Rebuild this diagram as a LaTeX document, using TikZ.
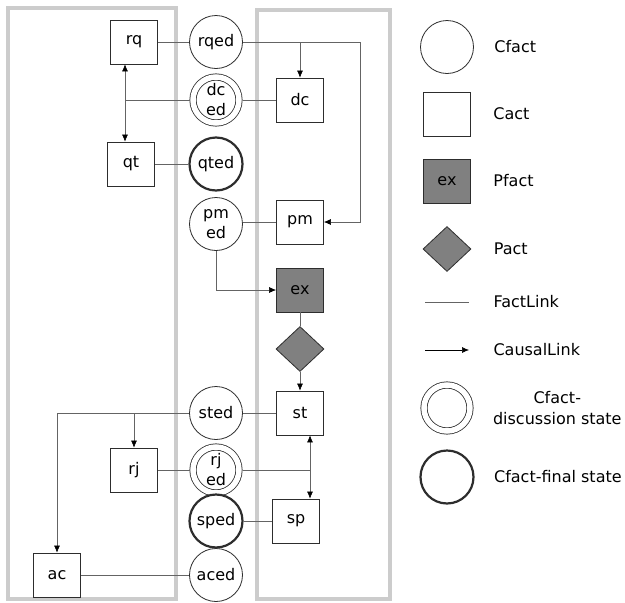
\documentclass[tikz,border=0pt]{standalone}
\usepackage{fontspec}
\setmainfont{DejaVu Sans}
\usepackage{xcolor}
\usepackage{tikz}
\usetikzlibrary{arrows.meta,positioning,shapes.geometric,calc}
\definecolor{lanegray}{RGB}{204,204,204}
\definecolor{factgray}{RGB}{128,128,128}
\definecolor{edgegray}{RGB}{45,45,45}
\definecolor{linkgray}{RGB}{100,100,100}
\tikzset{
  lane/.style={
    draw=lanegray,
    line width=3.5pt
  },
  cfact/.style={
    circle,
    draw=edgegray,
    line width=0.8pt,
    minimum size=53pt,
    inner sep=0pt,
    align=center,
    font=\fontsize{16}{20}\selectfont,
    fill=white
  },
  cfactdisc/.style={
    cfact,
    minimum size=46pt,
    double,
    double distance=5.5pt,
    outer sep=3.5pt
  },
  cfactfinal/.style={
    cfact,
    line width=2.2pt
  },
  cact/.style={
    rectangle,
    draw=edgegray,
    line width=0.8pt,
    minimum width=47pt,
    minimum height=44pt,
    inner sep=0pt,
    align=center,
    font=\fontsize{16}{20}\selectfont,
    fill=white
  },
  pfact/.style={
    cact,
    fill=factgray
  },
  pact/.style={
    diamond,
    draw=edgegray,
    line width=0.8pt,
    fill=factgray,
    minimum width=48pt,
    minimum height=45pt,
    inner sep=0pt
  },
  legtext/.style={
    anchor=west,
    align=center,
    font=\fontsize{16}{21}\selectfont
  },
  factlink/.style={draw=linkgray, line width=0.6pt},
  causal/.style={-{Latex[length=7pt,width=6pt,black]}, draw=linkgray, line width=0.6pt},
  causal2/.style={{Latex[length=7pt,width=6pt,black]}-{Latex[length=7pt,width=6pt,black]}, draw=linkgray, line width=0.6pt}
}
\begin{document}
\begin{tikzpicture}[x=1pt,y=-1pt]
\useasboundingbox (0,0) rectangle (625,603);
% lanes
\draw[lane] (8,8) rectangle (176,599);
\draw[lane] (257,10) rectangle (390,599);

% left lane
\node[cact] (rq) at (134,42) {rq};
\node[cact] (qt) at (131,164) {qt};
\node[cact] (rj) at (134,470) {rj};
\node[cact] (ac) at (57,575) {ac};

% middle column
\node[cfact] (rqed) at (216,42) {rqed};
\node[cfactdisc] (dced) at (216,100) {dc\\ed};
\node[cfactfinal] (qted) at (216,164) {qted};
\node[cfact] (pmed) at (216,224) {pm\\ed};
\node[cfact] (sted) at (216,413) {sted};
\node[cfactdisc] (rjed) at (216,470) {rj\\ed};
\node[cfactfinal] (sped) at (216,521) {sped};
\node[cfact] (aced) at (216,575) {aced};

% right lane
\node[cact] (dc) at (300,100) {dc};
\node[cact] (pm) at (300,222) {pm};
\node[pfact] (ex) at (300,290) {ex};
\node[pact] (exact) at (300,349) {};
\node[cact] (st) at (300,413) {st};
\node[cact] (sp) at (296,521) {sp};

\coordinate (rqturn) at (360,42);
\coordinate (dcjoin) at (125,100);
\coordinate (rjjoin) at (310,470);

% links
\draw[factlink] (rq) -- (rqed);
\draw[causal] (rqed.east) -| (dc.north);
\draw[causal] (rqed.east) -- (rqturn) |- (pm.east);
\draw[factlink] (dced) -- (dc);
\draw[factlink] (dced) -- (dcjoin);
\draw[causal2] (dcjoin |- rq.south) -- (dcjoin |- qt.north);
\draw[factlink] (qt) -- (qted);
\draw[factlink] (pm.west) -- (pm.west -| pmed.east);
\draw[causal] (pmed.south) |- (ex.west);
\draw[factlink] (ex) -- (exact);
\draw[causal] (exact) -- (st);
\draw[factlink] (sted) -- (st);
\draw[causal] (sted.west) -| (ac.north);
\draw[causal] (rj.north |- sted.west) -- (rj.north);
\draw[factlink] (rj) -- (rjed);
\draw[factlink] (rjed) -- (rjjoin);
\draw[causal2] (rjjoin |- st.south) -- (rjjoin |- sp.north);
\draw[factlink] (sped) -- (sp);
\draw[factlink] (ac) -- (aced);

% legend
\node[cfact] (legC) at (447,47) {};
\node[legtext, right=17pt of legC] (legCt) {Cfact};
\node[cact] (legA) at (447,114) {};
\node[legtext, right=19pt of legA] (legAt) {Cact};
\node[pfact] (legP) at (447,181) {ex};
\node[legtext, right=19pt of legP] (legPt) {Pfact};
\node[pact] (legD) at (447,249) {};
\node[legtext, right=19pt of legD] (legDt) {Pact};
\coordinate (legFa) at (425,302);
\coordinate (legFb) at (469,302);
\draw[factlink] (legFa) -- (legFb);
\node[legtext, right=21pt of legFb] (legFt) {FactLink};
\coordinate (legLa) at (425,350);
\coordinate (legLb) at (469,350);
\draw[causal, draw=black] (legLa) -- (legLb);
\node[legtext, right=21pt of legLb] (legLt) {CausalLink};
\node[cfactdisc] (legDs) at (447,408) {};
\node[legtext, right=16pt of legDs] (legDst) {Cfact-\\discussion state};
\node[cfactfinal] (legFs) at (447,477) {};
\node[legtext, right=16pt of legFs] (legFst) {Cfact-final state};
\end{tikzpicture}
\end{document}
